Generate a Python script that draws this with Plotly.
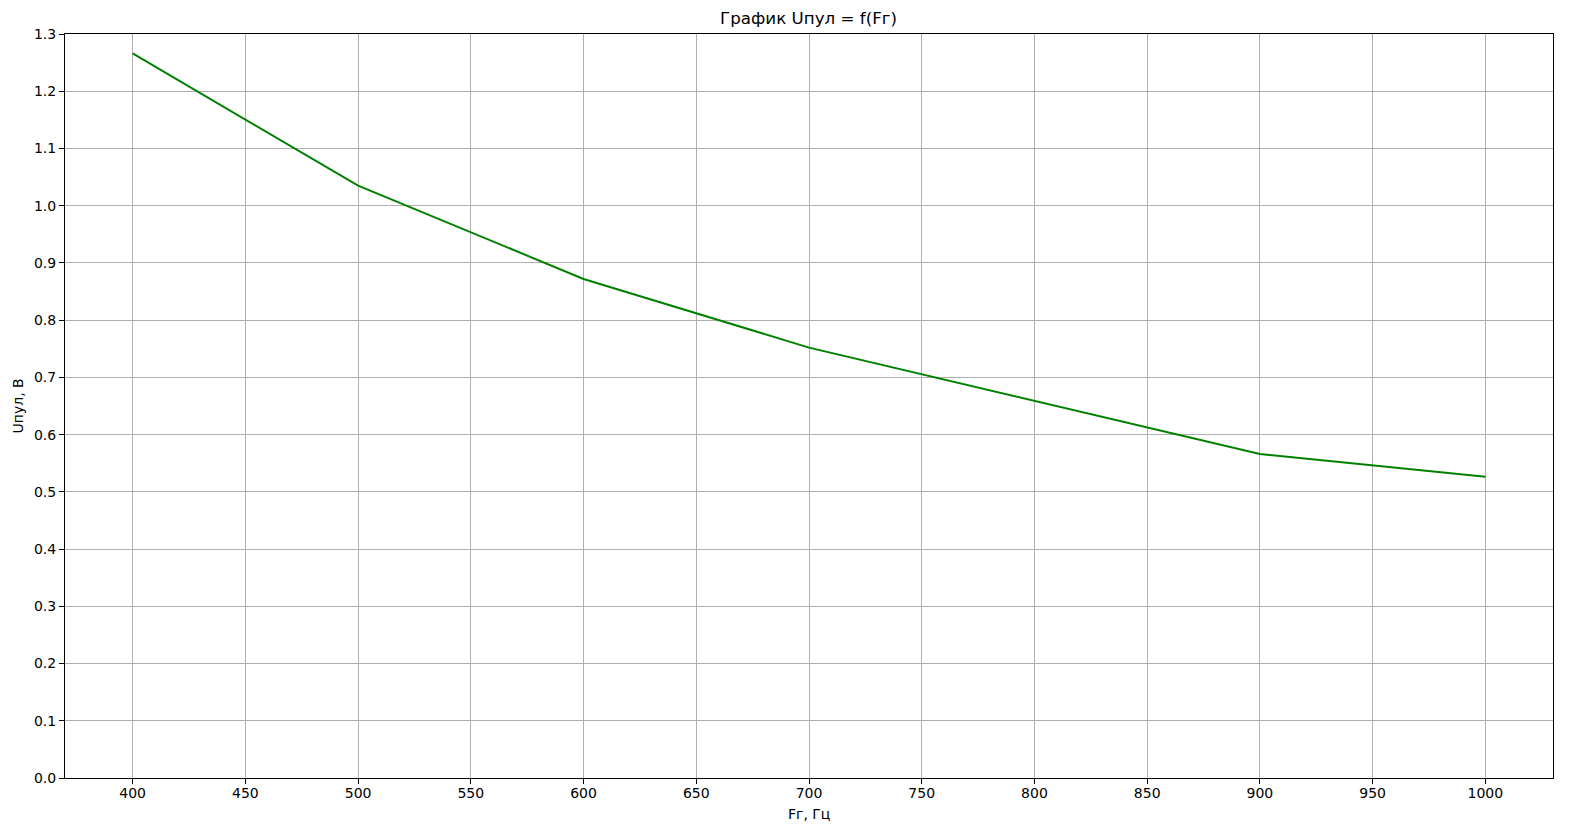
import plotly.graph_objects as go

freq_hz = [400, 500, 600, 700, 900, 1000]
u_pul = [1.266, 1.035, 0.872, 0.752, 0.566, 0.5265]
x_ticks = list(range(400, 1001, 50))
y_ticks = [round(i * 0.1, 1) for i in range(14)]

# page body has an 8px margin; compensate so the plot area lands where the reference has it
OFF = 8
W, H = 1561, 820
L, T = 64.5 - OFF, 33.7 - OFF
R = OFF + W - 1552.7
B = OFF + H - 778.3

fig = go.Figure()
fig.add_trace(go.Scatter(x=freq_hz, y=u_pul, mode="lines",
                         line=dict(color="#008000", width=2), showlegend=False))

font = dict(family="DejaVu Sans", size=14, color="black")
axis_common = dict(showline=True, linecolor="black", linewidth=1.1, mirror=True,
                   ticks="outside", ticklen=5, tickwidth=1.1, tickcolor="black",
                   showgrid=True, gridcolor="#b0b0b0", gridwidth=1.1,
                   zeroline=False, tickfont=font)
fig.update_xaxes(range=[370, 1030], tickvals=x_ticks, ticklabelstandoff=-3, **axis_common)
fig.update_yaxes(range=[0, 1.3], tickvals=y_ticks, tickformat=".1f", **axis_common)

fig.update_layout(
    width=W, height=H, autosize=False,
    margin=dict(l=L, r=R, t=T, b=B, pad=0),
    plot_bgcolor="white", paper_bgcolor="white",
    font=font,
    title=dict(text="График Uпул = f(Fг)", x=(808.6 - OFF) / W, xanchor="center",
               y=1 - (18 - OFF) / H, yanchor="middle", yref="container",
               font=dict(family="DejaVu Sans", size=16.7, color="black")),
    annotations=[
        dict(text="Fг, Гц", xref="paper", yref="paper", x=0.5, y=0,
             xanchor="center", yanchor="middle", yshift=-36, showarrow=False, font=font),
        dict(text="Uпул, В", xref="paper", yref="paper", x=0, y=0.5, textangle=-90,
             xanchor="center", yanchor="middle", xshift=-(64.5 - 17), showarrow=False, font=font),
    ],
)
fig.write_html("out.html")
